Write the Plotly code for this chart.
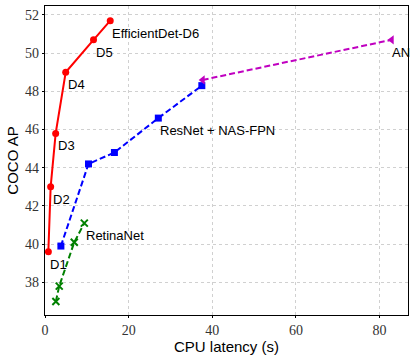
import plotly.graph_objects as go

effdet_x = [0.8, 1.35, 2.55, 4.95, 11.6, 15.6]
effdet_y = [39.6, 43.0, 45.8, 49.0, 50.7, 51.7]
effdet_labels = ["D1", "D2", "D3", "D4", "D5", "EfficientDet-D6"]

nasfpn_x = [3.8, 10.4, 16.6, 27.1, 37.5]
nasfpn_y = [39.9, 44.2, 44.8, 46.6, 48.3]

amoeba_x = [37.7, 82.9]
amoeba_y = [48.6, 50.7]

retina_x = [2.6, 3.4, 7.0, 9.4]
retina_y = [37.0, 37.8, 40.1, 41.1]

label_font = dict(family="Liberation Sans, Arial", size=13, color="black")
dashed = "6px,3px"

fig = go.Figure()
fig.add_trace(go.Scatter(x=effdet_x, y=effdet_y, mode="lines+markers",
                         line=dict(color="red", width=2),
                         marker=dict(symbol="circle", size=7, color="red")))
fig.add_trace(go.Scatter(x=nasfpn_x, y=nasfpn_y, mode="lines+markers",
                         line=dict(color="blue", width=2, dash=dashed),
                         marker=dict(symbol="square", size=7, color="blue")))
fig.add_trace(go.Scatter(x=amoeba_x, y=amoeba_y, mode="lines+markers",
                         line=dict(color="#c000c0", width=2, dash=dashed),
                         marker=dict(symbol="triangle-left", size=8, color="#c000c0")))
fig.add_trace(go.Scatter(x=retina_x, y=retina_y, mode="lines+markers",
                         line=dict(color="green", width=2, dash=dashed),
                         marker=dict(symbol="x-thin", size=7, color="green",
                                     line=dict(width=2, color="green"))))

for x, y, t in zip(effdet_x, effdet_y, effdet_labels):
    fig.add_annotation(x=x, y=y, text=t, showarrow=False, xanchor="left",
                       yanchor="top", yshift=-3, font=label_font)
fig.add_annotation(x=nasfpn_x[3], y=nasfpn_y[3], text="ResNet + NAS-FPN", showarrow=False,
                   xanchor="left", yanchor="top", yshift=-3, font=label_font)
fig.add_annotation(x=retina_x[3], y=retina_y[3], text="RetinaNet", showarrow=False,
                   xanchor="left", yanchor="top", yshift=-3, font=label_font)
fig.add_annotation(x=amoeba_x[1], y=amoeba_y[1], text="AN", showarrow=False,
                   xanchor="left", yanchor="top", yshift=-3, xshift=-2, font=label_font)

axis_common = dict(
    showline=True, linecolor="black", linewidth=1.2, mirror=True,
    showgrid=True, gridcolor="#d0d0d0", griddash="dot", gridwidth=1,
    ticks="outside", ticklen=2, tickcolor="black", zeroline=False,
    automargin=False,
    tickfont=dict(family="Liberation Serif, serif", size=14, color="#333"),
    title_font=dict(family="Liberation Sans, Arial", size=15, color="black"),
)
fig.update_xaxes(range=[0, 86.8], dtick=20, title_text="CPU latency (s)",
                 title_standoff=0, **axis_common)
fig.update_yaxes(range=[36.29, 52.47], dtick=2, title_text="COCO AP",
                 title_standoff=2, **axis_common)
fig.update_layout(
    width=416, height=360, showlegend=False,
    margin=dict(l=45, r=8, t=6, b=45),
    paper_bgcolor="white", plot_bgcolor="white",
)
fig.write_html("out.html", config={"displayModeBar": False},
               post_script="document.body.style.margin='0';")
